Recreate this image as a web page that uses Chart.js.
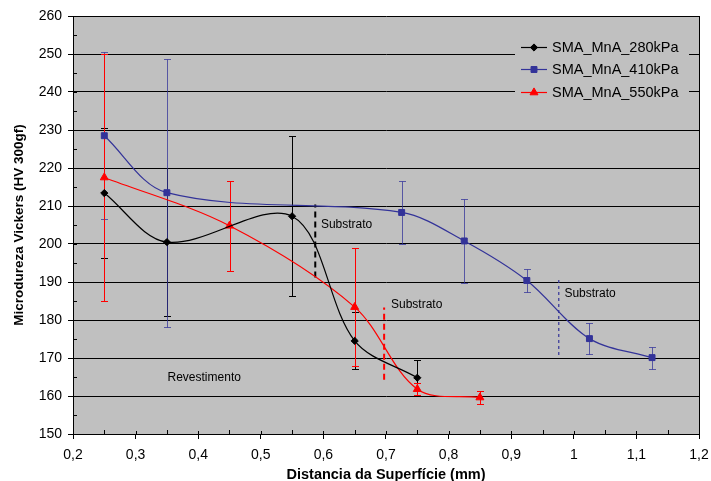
<!DOCTYPE html>
<html><head><meta charset="utf-8">
<script src="https://cdn.jsdelivr.net/npm/chart.js@4/dist/chart.umd.min.js"></script>
<style>html,body{margin:0;padding:0;background:#fff;} #wrap{width:711px;height:481px;position:relative;}</style>
</head><body><div id="wrap"><canvas id="c" width="711" height="481"></canvas></div>
<script>
// ---- data ----
const seriesNames = ['SMA_MnA_280kPa', 'SMA_MnA_410kPa', 'SMA_MnA_550kPa'];
const x280 = [0.25, 0.35, 0.55, 0.65, 0.75];
const y280 = [213.4, 200.5, 207.3, 174.5, 164.8];
const err280 = [17, 19.5, 21, 7.5, 4.6];
const x410 = [0.25, 0.35, 0.725, 0.825, 0.925, 1.025, 1.125];
const y410 = [228.5, 213.5, 208.3, 200.8, 190.4, 175.1, 170.1];
const err410 = [22, 35.3, 8.3, 11, 2.9, 4.1, 2.9];
const x550 = [0.25, 0.45, 0.65, 0.75, 0.85];
const y550 = [217.5, 204.8, 183.4, 161.8, 159.6];
const err550 = [32.5, 11.9, 15.5, 1.6, 1.8];
const xTickLabels = ['0,2', '0,3', '0,4', '0,5', '0,6', '0,7', '0,8', '0,9', '1', '1,1', '1,2'];
const yTickLabels = ['150', '160', '170', '180', '190', '200', '210', '220', '230', '240', '250', '260'];
const substratoX = [0.587, 0.697, 0.976];
const substratoYFrom = [191.2, 164.3, 170.8];
const substratoYTo = [210.4, 183.3, 190.7];
const noteTexts = ['Substrato', 'Substrato', 'Substrato', 'Revestimento'];
const noteX = [0.596, 0.708, 0.985, 0.351];
const noteY = [205, 184, 187, 164.7];

// ---- styles ----
const FONT = "'Liberation Sans', Arial, Helvetica, sans-serif";
Chart.defaults.font.family = FONT;
Chart.defaults.color = '#000';
const seriesStyles = [
  {color: '#000000', errColor: '#000000', pointStyle: 'rectRot', radius: 3.6},
  {color: '#333399', errColor: 'rgba(51,51,153,0.75)', pointStyle: 'rect', radius: 4.2},
  {color: '#FF0000', errColor: '#FF0000', pointStyle: 'triangle', radius: 4.6}
];
const dashStyles = [
  {color: '#000000', width: 2, dash: [6, 4]},
  {color: '#FF0000', width: 2, dash: [6, 4]},
  {color: '#333399', width: 1.2, dash: [3, 3]}
];

const pts = (xs, ys) => xs.map((x, i) => ({x: x, y: ys[i]}));
const seriesX = [x280, x410, x550];
const seriesY = [y280, y410, y550];
const seriesErr = [err280, err410, err550];

const datasets = seriesNames.map((name, i) => ({
  label: name,
  data: pts(seriesX[i], seriesY[i]),
  errors: seriesErr[i],
  errColor: seriesStyles[i].errColor,
  borderColor: seriesStyles[i].color,
  backgroundColor: seriesStyles[i].color,
  pointBackgroundColor: seriesStyles[i].color,
  pointBorderColor: seriesStyles[i].color,
  pointStyle: seriesStyles[i].pointStyle,
  pointRadius: seriesStyles[i].radius,
  pointBorderWidth: 1,
  borderWidth: 1.2,
  tension: 0.33,
  fill: false,
  order: 1
}));
substratoX.forEach((x, i) => {
  datasets.push({
    label: 'Substrato ' + (i + 1),
    isNote: true,
    data: [{x: x, y: substratoYFrom[i]}, {x: x, y: substratoYTo[i]}],
    borderColor: dashStyles[i].color,
    borderWidth: dashStyles[i].width,
    borderDash: dashStyles[i].dash,
    pointRadius: 0,
    tension: 0,
    fill: false,
    order: 2
  });
});

const deco = {
  id: 'deco',
  beforeDraw(chart) {
    const {ctx, chartArea: a} = chart;
    ctx.save();
    ctx.fillStyle = '#ffffff';
    ctx.fillRect(0, 0, chart.width, chart.height);
    ctx.fillStyle = '#C0C0C0';
    ctx.fillRect(a.left, a.top, a.right - a.left, a.bottom - a.top);
    ctx.restore();
  },
  beforeDatasetsDraw(chart) {
    const {ctx, chartArea: a} = chart;
    const xs = chart.scales.x, ys = chart.scales.y;
    ctx.save();
    // right border
    ctx.strokeStyle = '#000';
    ctx.lineWidth = 1;
    ctx.beginPath();
    ctx.moveTo(Math.round(a.right) + 0.5, a.top);
    ctx.lineTo(Math.round(a.right) + 0.5, a.bottom + 0.5);
    ctx.stroke();
    // minor / inner ticks
    ctx.beginPath();
    for (let v = 0.25; v < 1.2; v += 0.05) {
      const px = Math.round(xs.getPixelForValue(v)) + 0.5;
      const major = Math.abs(v * 10 - Math.round(v * 10)) < 1e-6;
      ctx.moveTo(px, a.bottom);
      ctx.lineTo(px, a.bottom - (major ? 3 : 4));
    }
    for (let v = 155; v < 260; v += 5) {
      const py = Math.round(ys.getPixelForValue(v)) + 0.5;
      ctx.moveTo(a.left, py);
      ctx.lineTo(a.left + 4, py);
    }
    ctx.stroke();
    // error bars
    chart.data.datasets.forEach(ds => {
      if (!ds.errors) return;
      ctx.strokeStyle = ds.errColor;
      ctx.lineWidth = 1;
      ds.data.forEach((p, i) => {
        const e = ds.errors[i];
        const px = Math.round(xs.getPixelForValue(p.x)) + 0.5;
        const t = Math.round(ys.getPixelForValue(p.y + e)) + 0.5;
        const b = Math.round(ys.getPixelForValue(p.y - e)) + 0.5;
        ctx.beginPath();
        ctx.moveTo(px, t); ctx.lineTo(px, b);
        ctx.moveTo(px - 3.5, t); ctx.lineTo(px + 3.5, t);
        ctx.moveTo(px - 3.5, b); ctx.lineTo(px + 3.5, b);
        ctx.stroke();
      });
    });
    ctx.restore();
  },
  afterDatasetsDraw(chart) {
    const {ctx, chartArea: a} = chart;
    const xs = chart.scales.x, ys = chart.scales.y;
    ctx.save();
    // notes
    ctx.fillStyle = '#000';
    ctx.font = '12px ' + FONT;
    ctx.textAlign = 'left';
    ctx.textBaseline = 'middle';
    noteTexts.forEach((t, i) => {
      ctx.fillText(t, xs.getPixelForValue(noteX[i]), ys.getPixelForValue(noteY[i]));
    });
    // legend
    const lx = a.right - 184, ly = a.top + 15, lw = 174, lh = 76;
    ctx.fillStyle = '#C0C0C0';
    ctx.fillRect(lx, ly, lw, lh);
    ctx.font = '14.5px ' + FONT;
    seriesNames.forEach((name, i) => {
      const st = seriesStyles[i];
      const cy = Math.round(ly + 15.5 + i * 22.5) + 0.5;
      ctx.strokeStyle = st.color;
      ctx.lineWidth = 1.2;
      ctx.beginPath();
      ctx.moveTo(lx + 6, cy); ctx.lineTo(lx + 32, cy);
      ctx.stroke();
      ctx.fillStyle = st.color;
      ctx.lineWidth = 1;
      if (Chart.helpers && Chart.helpers.drawPoint) {
        Chart.helpers.drawPoint(ctx, {pointStyle: st.pointStyle, radius: st.radius, rotation: 0, borderWidth: 1}, lx + 19, cy);
      }
      ctx.fillStyle = '#000';
      ctx.textBaseline = 'middle';
      ctx.fillText(name, lx + 37, cy);
    });
    ctx.restore();
  }
};

new Chart(document.getElementById('c'), {
  type: 'line',
  data: {datasets: datasets},
  plugins: [deco],
  options: {
    responsive: false,
    animation: false,
    events: [],
    layout: {padding: {top: 16, right: 12, left: 0, bottom: 0}},
    plugins: {legend: {display: false}, tooltip: {enabled: false}},
    scales: {
      x: {
        type: 'linear', min: 0.2, max: 1.2,
        afterFit(s) { s.height = 47; s.paddingRight = 0; s.paddingLeft = 0; },
        ticks: {
          stepSize: 0.1, autoSkip: false, maxRotation: 0, color: '#000',
          font: {size: 14}, padding: 8,
          callback: (v) => xTickLabels[Math.round(v * 10) - 2]
        },
        grid: {drawOnChartArea: false, drawTicks: true, tickLength: 5, color: '#000'},
        border: {display: true, color: '#000', width: 1},
        title: {display: true, text: 'Distancia da Superfície (mm)', color: '#000',
          font: {size: 14.5, weight: 'bold'}, padding: {top: 0, bottom: -3}}
      },
      y: {
        min: 150, max: 260,
        afterFit(s) { s.width = 73; s.paddingTop = 0; s.paddingBottom = 0; },
        ticks: {
          stepSize: 10, color: '#000', font: {size: 14}, padding: 6,
          callback: (v) => yTickLabels[Math.round((v - 150) / 10)]
        },
        grid: {color: '#000', lineWidth: 1, drawTicks: true, tickLength: 5},
        border: {display: true, color: '#000', width: 1},
        title: {display: true, text: 'Microdureza Vickers (HV 300gf)', color: '#000',
          font: {size: 13.5, weight: 'bold'}, padding: {top: 11, bottom: 0}}
      }
    }
  }
});
</script>
</body></html>
